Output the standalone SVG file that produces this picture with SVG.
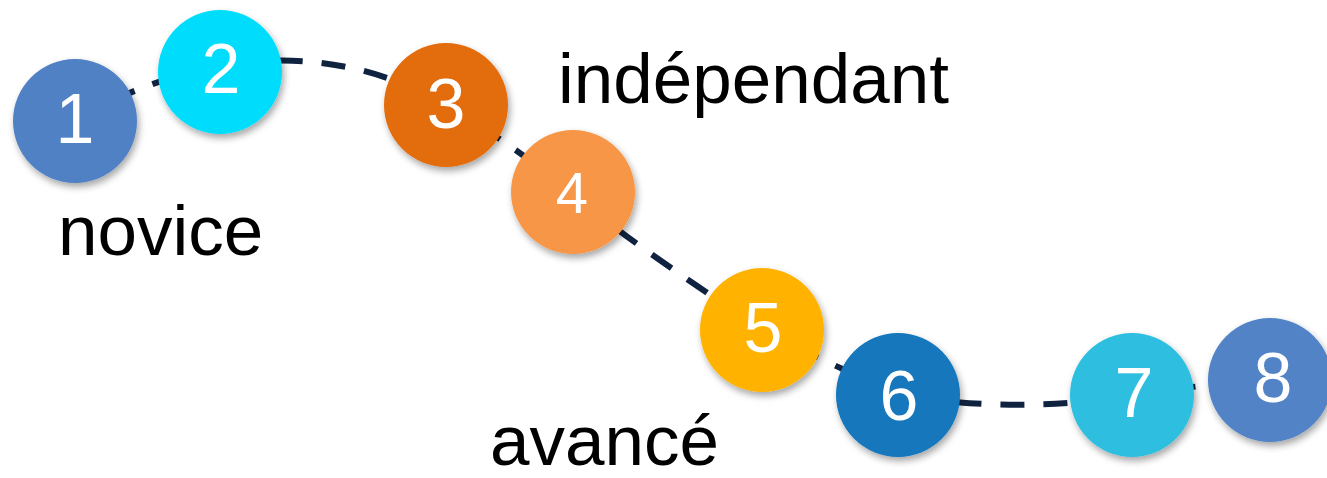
<svg xmlns="http://www.w3.org/2000/svg" width="1327" height="478" viewBox="0 0 1327 478">
  <defs>
    <filter id="sh" x="-30%" y="-30%" width="160%" height="170%">
      <feDropShadow dx="2" dy="4" stdDeviation="3.5" flood-color="#000" flood-opacity="0.35"/>
    </filter>
    <style>
      .node circle { filter: url(#sh); }
      .num { font-family: "Liberation Sans", Arial, sans-serif; font-size: 70px; fill: #ffffff; text-anchor: middle; }
      .lbl { font-family: "Liberation Sans", Arial, sans-serif; font-size: 71px; fill: #000000; }
      .conn { fill: none; stroke: #0f2340; stroke-width: 6; stroke-dasharray: 24 19; }
    </style>
  </defs>
  <rect width="1327" height="478" fill="#ffffff"/>
  <g id="connectors">
    <path class="conn" d="M75,121 C150,75 300,20 446,105 C500,137 530,160 573,193 C610,228 700,288 762,330 C800,350 850,372 898,395 C980,408 1060,408 1132,395 C1180,388 1230,382 1270,380"/>
  </g>
  <g id="node1" class="node">
    <circle cx="75" cy="121" r="62" fill="#5181C5"/>
    <text class="num" x="75" y="143">1</text>
  </g>
  <g id="node2" class="node">
    <circle cx="220" cy="72" r="62" fill="#00DDFC"/>
    <text class="num" x="221" y="93">2</text>
  </g>
  <g id="node3" class="node">
    <circle cx="446" cy="105" r="62" fill="#E36C0B"/>
    <text class="num" x="446" y="128">3</text>
  </g>
  <g id="node4" class="node">
    <circle cx="573" cy="192" r="62" fill="#F79647"/>
    <text class="num" x="572" y="213" style="font-size:58px">4</text>
  </g>
  <g id="node5" class="node">
    <circle cx="762" cy="330" r="62" fill="#FFB300"/>
    <text class="num" x="763" y="352">5</text>
  </g>
  <g id="node6" class="node">
    <circle cx="898" cy="395" r="62" fill="#1277BD"/>
    <text class="num" x="899" y="420">6</text>
  </g>
  <g id="node7" class="node">
    <circle cx="1132" cy="395" r="62" fill="#2DBFE0"/>
    <text class="num" x="1134" y="417">7</text>
  </g>
  <g id="node8" class="node">
    <circle cx="1270" cy="380" r="62" fill="#5183C6"/>
    <text class="num" x="1273" y="402">8</text>
  </g>
  <g id="labels">
    <text class="lbl" x="58" y="255">novice</text>
    <text class="lbl" x="558" y="103">indépendant</text>
    <text class="lbl" x="490" y="465">avancé</text>
  </g>
</svg>
